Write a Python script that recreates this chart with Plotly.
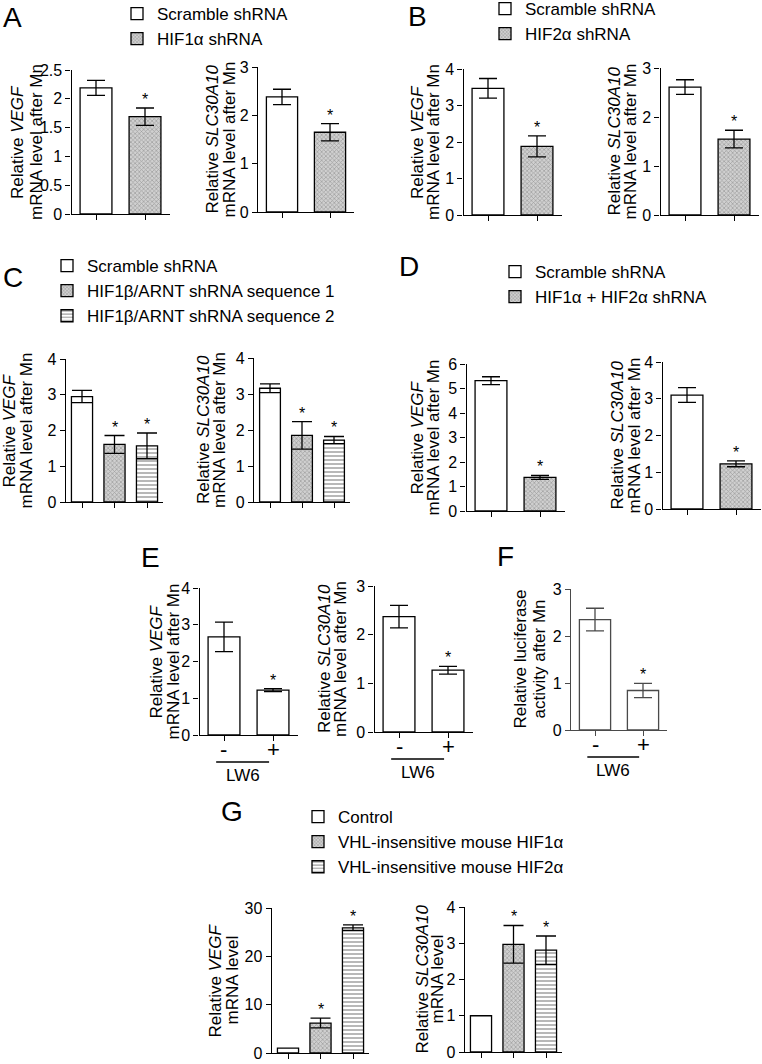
import plotly.graph_objects as go

W, H = 762, 1064
FONT = "Arial, 'Liberation Sans', Helvetica, sans-serif"

# ---------------- data ----------------
# Panel A
A_groups = ["Scramble shRNA", "HIF1α shRNA"]
A_vegf = [2.19, 1.69]
A_vegf_err = [0.13, 0.15]
A_slc = [2.38, 1.65]
A_slc_err = [0.16, 0.18]
# Panel B
B_groups = ["Scramble shRNA", "HIF2α shRNA"]
B_vegf = [3.47, 1.88]
B_vegf_err = [0.27, 0.29]
B_slc = [2.61, 1.55]
B_slc_err = [0.15, 0.18]
# Panel C
C_groups = ["Scramble shRNA", "HIF1β/ARNT shRNA sequence 1", "HIF1β/ARNT shRNA sequence 2"]
C_vegf = [2.95, 1.61, 1.57]
C_vegf_err = [0.17, 0.25, 0.36]
C_slc = [3.16, 1.85, 1.72]
C_slc_err = [0.12, 0.38, 0.10]
# Panel D
D_groups = ["Scramble shRNA", "HIF1α + HIF2α shRNA"]
D_vegf = [5.32, 1.37]
D_vegf_err = [0.16, 0.08]
D_slc = [3.10, 1.23]
D_slc_err = [0.20, 0.08]
# Panel E / F (LW6 - / +)
LW6_ticks = ["-", "+"]
LW6_groups = ["LW6 -", "LW6 +"]
E_vegf = [2.67, 1.22]
E_vegf_err = [0.40, 0.04]
E_slc = [2.37, 1.27]
E_slc_err = [0.23, 0.08]
F_luc = [2.35, 0.84]
F_luc_err = [0.24, 0.15]
# Panel G
G_groups = ["Control", "VHL-insensitive mouse HIF1α", "VHL-insensitive mouse HIF2α"]
G_vegf = [1.0, 6.2, 25.9]
G_vegf_err = [None, 1.0, 0.6]
G_slc = [1.0, 2.97, 2.81]
G_slc_err = [None, 0.52, 0.39]

# ---------------- styles ----------------
FILLS = [
    dict(color="white"),
    dict(color="#c4c4c4", pattern=dict(shape="x", fgcolor="#6a6a6a", bgcolor="#d0d0d0", size=3, solidity=0.4)),
    dict(color="white", pattern=dict(shape="-", fgcolor="black", bgcolor="white", size=4, solidity=0.28)),
]

VEGF_LAB = ("Relative <i>VEGF</i>", "mRNA level after Mn")
SLC_LAB = ("Relative <i>SLC30A10</i>", "mRNA level after Mn")

# layout table: category centres (px), axis top/bottom (px), y-label line x (px)
charts = [
    dict(vals=A_vegf, errs=A_vegf_err, names=A_groups, fills=[0, 1], legend="legend", cats=(96, 145), ytop=70, ybot=214, ymax=2.5, dtick=0.5, ylab=VEGF_LAB, ylx=(17, 36)),
    dict(vals=A_slc, errs=A_slc_err, names=A_groups, fills=[0, 1], legend=None, cats=(282, 330), ytop=67, ybot=212, ymax=3, dtick=1, ylab=SLC_LAB, ylx=(212, 229)),
    dict(vals=B_vegf, errs=B_vegf_err, names=B_groups, fills=[0, 1], legend="legend2", cats=(488, 537), ytop=69, ybot=215, ymax=4, dtick=1, ylab=VEGF_LAB, ylx=(417, 433)),
    dict(vals=B_slc, errs=B_slc_err, names=B_groups, fills=[0, 1], legend=None, cats=(685, 734), ytop=68, ybot=215, ymax=3, dtick=1, ylab=SLC_LAB, ylx=(614, 630)),
    dict(vals=C_vegf, errs=C_vegf_err, names=C_groups, fills=[0, 1, 2], legend="legend3", cats=(82, 114.5, 147), ytop=359, ybot=502, ymax=4, dtick=1, ylab=VEGF_LAB, ylx=(9, 26)),
    dict(vals=C_slc, errs=C_slc_err, names=C_groups, fills=[0, 1, 2], legend=None, cats=(270, 302, 334), ytop=358, ybot=502, ymax=4, dtick=1, ylab=SLC_LAB, ylx=(203, 219)),
    dict(vals=D_vegf, errs=D_vegf_err, names=D_groups, fills=[0, 1], legend="legend4", cats=(491, 540), ytop=364, ybot=511, ymax=6, dtick=1, ylab=VEGF_LAB, ylx=(417, 433)),
    dict(vals=D_slc, errs=D_slc_err, names=D_groups, fills=[0, 1], legend=None, cats=(687, 736), ytop=362, ybot=509, ymax=4, dtick=1, ylab=SLC_LAB, ylx=(617, 634)),
    dict(vals=E_vegf, errs=E_vegf_err, names=LW6_groups, fills=[0, 0], legend=None, cats=(224, 273), ytop=588, ybot=735, ymax=4, dtick=1, ylab=VEGF_LAB, ylx=(156, 173), lw6=True),
    dict(vals=E_slc, errs=E_slc_err, names=LW6_groups, fills=[0, 0], legend=None, cats=(399, 448), ytop=586, ybot=732, ymax=3, dtick=1, ylab=SLC_LAB, ylx=(324, 340), lw6=True),
    dict(vals=F_luc, errs=F_luc_err, names=LW6_groups, fills=[0, 0], legend=None, cats=(595, 643), ytop=589, ybot=730, ymax=3, dtick=1, ylab=("Relative luciferase", "activity after Mn"), ylx=(520, 539), lw6=True, line="#4a4a4a"),
    dict(vals=G_vegf, errs=G_vegf_err, names=G_groups, fills=[0, 1, 2], legend="legend5", cats=(288, 320.5, 353), ytop=908, ybot=1053, ymax=30, dtick=10, ylab=("Relative <i>VEGF</i>", "mRNA level"), ylx=(215, 232)),
    dict(vals=G_slc, errs=G_slc_err, names=G_groups, fills=[0, 1, 2], legend=None, cats=(481, 513.5, 546), ytop=907, ybot=1052, ymax=4, dtick=1, ylab=("Relative <i>SLC30A10</i>", "mRNA level"), ylx=(422, 437)),
]

panel_letters = [("A", 12, 18), ("B", 417, 17), ("C", 13, 277), ("D", 409, 266),
                 ("E", 150, 557), ("F", 505, 556), ("G", 232, 811)]

legends = {
    "legend": dict(tx=157, row1=15),
    "legend2": dict(tx=525, row1=10),
    "legend3": dict(tx=87, row1=267),
    "legend4": dict(tx=535, row1=273),
    "legend5": dict(tx=338, row1=818),
}

fig = go.Figure()
layout = {}
annotations = []
shapes = []

for i, ch in enumerate(charts, start=1):
    sfx = "" if i == 1 else str(i)
    xa, ya = "x" + sfx, "y" + sfx
    n = len(ch["vals"])
    c = ch["cats"]
    s = (c[-1] - c[0]) / (n - 1)
    x0, x1 = c[0] - 0.5 * s, c[-1] + 0.5 * s
    lc = ch.get("line", "black")
    lw6 = ch.get("lw6", False)
    cap = 9 if n == 2 else 10

    for j in range(n):
        err = ch["errs"][j]
        fill = FILLS[ch["fills"][j]]
        marker = dict(color=fill["color"], line=dict(color=lc, width=1.3))
        if "pattern" in fill:
            marker["pattern"] = fill["pattern"]
        kw = {}
        if err is not None:
            kw["error_y"] = dict(type="data", array=[err], visible=True, color=lc, thickness=1.3, width=cap)
        show = ch["legend"] is not None
        fig.add_trace(go.Bar(
            x=[j], y=[ch["vals"][j]], width=0.65, marker=marker, name=ch["names"][j],
            xaxis=xa, yaxis=ya, showlegend=show, legend=ch["legend"] if show else "legend",
            hoverinfo="skip", **kw))
        if j >= 1:
            top = ch["vals"][j] + (err or 0)
            annotations.append(dict(text="*", x=j, y=top, xref=xa, yref=ya, showarrow=False,
                                    xanchor="center", yanchor="bottom", yshift=-2,
                                    font=dict(size=16, color="black")))

    layout["xaxis" + sfx] = dict(
        domain=[x0 / W, x1 / W], anchor=ya, range=[-0.5, n - 0.5],
        tickmode="array", tickvals=list(range(n)), showticklabels=False,
        ticks="outside", ticklen=5, tickwidth=1.3, tickcolor=lc,
        showline=True, linecolor=lc, linewidth=1.3, showgrid=False, zeroline=False,
        fixedrange=True, automargin=False)
    layout["yaxis" + sfx] = dict(
        domain=[1 - ch["ybot"] / H, 1 - ch["ytop"] / H], anchor=xa, range=[0, ch["ymax"]],
        tick0=0, dtick=ch["dtick"], tickfont=dict(size=16, color="black"),
        ticks="outside", ticklen=5, tickwidth=1.3, tickcolor=lc,
        showline=True, linecolor=lc, linewidth=1.3, showgrid=False, zeroline=False,
        fixedrange=True, automargin=False)

    yc = 1 - (ch["ytop"] + ch["ybot"]) / 2 / H
    for txt, lx in zip(ch["ylab"], ch["ylx"]):
        annotations.append(dict(text=txt, x=lx / W, y=yc, xref="paper", yref="paper",
                                textangle=-90, showarrow=False, xanchor="center", yanchor="middle",
                                font=dict(size=17, color="black")))

    if lw6:
        # "-" / "+" labels under the categories, bracket line and "LW6"
        for j, t in enumerate(LW6_ticks):
            annotations.append(dict(text=t, x=j, y=1 - (ch["ybot"] + 14) / H, xref=xa, yref="paper",
                                    showarrow=False, xanchor="center", yanchor="middle",
                                    font=dict(size=22, color="black")))
        ly = ch["ybot"] + 27
        shapes.append(dict(type="line", xref=xa, yref="paper", x0=-0.16, x1=0.92,
                           y0=1 - ly / H, y1=1 - ly / H, line=dict(color="black", width=1.5)))
        annotations.append(dict(text="LW6", x=0.38, y=1 - (ly + 2) / H, xref=xa, yref="paper",
                                showarrow=False, xanchor="center", yanchor="top",
                                font=dict(size=17, color="black")))

for letter, lx, ly in panel_letters:
    annotations.append(dict(text=letter, x=lx / W, y=1 - ly / H, xref="paper", yref="paper",
                            showarrow=False, xanchor="center", yanchor="middle",
                            font=dict(size=28, color="black")))

for name, lg in legends.items():
    layout[name] = dict(x=(lg["tx"] - 40) / W, y=1 - (lg["row1"] - 19) / H,
                        xanchor="left", yanchor="top", bgcolor="rgba(0,0,0,0)",
                        font=dict(size=17, color="black"), traceorder="normal",
                        itemclick=False, itemdoubleclick=False)

fig.update_layout(
    width=W, height=H, margin=dict(l=0, r=0, t=0, b=0, autoexpand=False),
    paper_bgcolor="white", plot_bgcolor="white", barmode="overlay",
    font=dict(family=FONT, color="black"), showlegend=True,
    annotations=annotations, shapes=shapes, **layout)

fig.write_html("out.html", config={"displayModeBar": False},
               post_script="document.body.style.margin='0px';document.body.style.padding='0px';")
